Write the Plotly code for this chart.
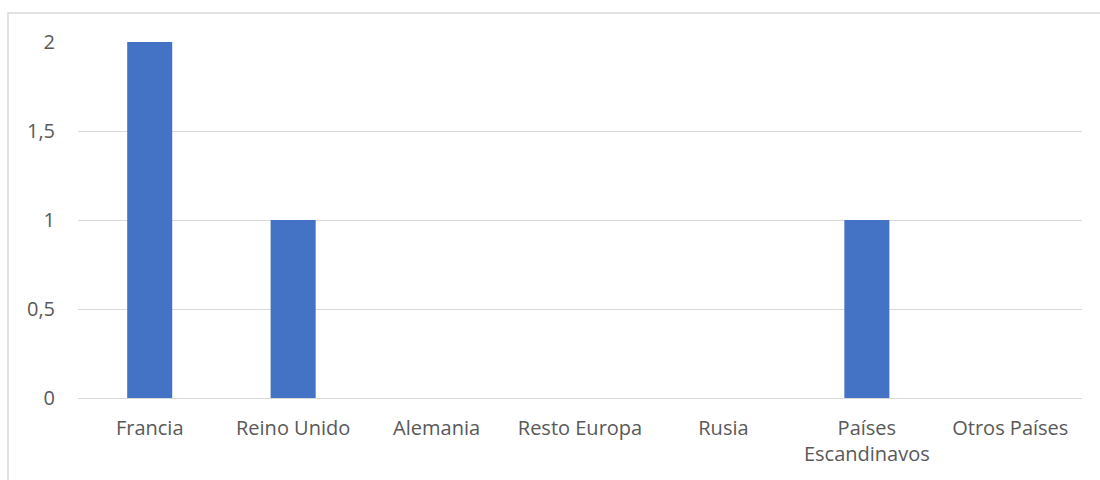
import plotly.graph_objects as go

categories = ["Francia", "Reino Unido", "Alemania", "Resto Europa", "Rusia",
              "Países<br>Escandinavos", "Otros Países"]
values = [2, 1, 0, 0, 0, 1, 0]
y_ticks = [0, 0.5, 1, 1.5, 2]
y_tick_labels = ["0", "0,5", "1", "1,5", "2"]

fig = go.Figure(
    go.Bar(x=categories, y=values, marker=dict(color="#4472C4", line=dict(width=0)))
)

fig.update_layout(
    width=1100, height=480,
    margin=dict(l=78, r=18, t=42, b=82),
    paper_bgcolor="white", plot_bgcolor="white",
    bargap=0.686,
    showlegend=False,
    font=dict(family="'Open Sans', sans-serif", size=20, color="#595959"),
    shapes=[dict(type="rect", xref="paper", yref="paper",
                 x0=-0.0697, x1=1.1, y0=-0.4, y1=1.0815,
                 line=dict(color="#D9D9D9", width=1.5), fillcolor="rgba(0,0,0,0)",
                 layer="below")],
)
fig.update_xaxes(showgrid=False, showline=False, zeroline=False,
                 ticks="", ticklabelstandoff=16, tickangle=0)
fig.update_yaxes(range=[0, 2], tickvals=y_ticks, ticktext=y_tick_labels,
                 showgrid=True, gridcolor="#D9D9D9", gridwidth=1.3,
                 zeroline=True, zerolinecolor="#D9D9D9", zerolinewidth=1.3,
                 showline=False, ticks="", ticklabelstandoff=22)

fig.write_html("out.html")
